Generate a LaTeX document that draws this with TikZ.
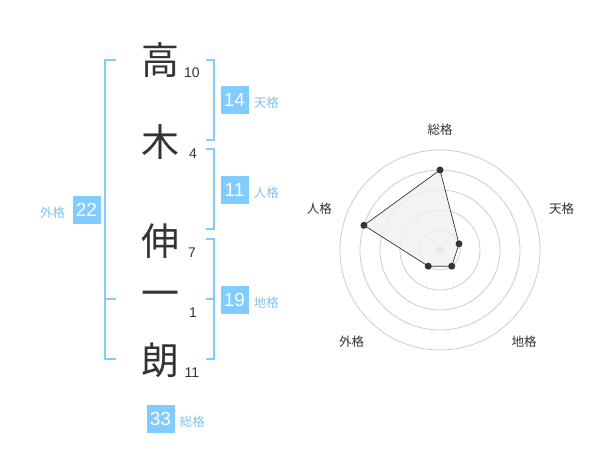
\documentclass[tikz,border=0pt]{standalone}
\usepackage{fontspec}
\setmainfont{Noto Sans CJK JP}
\newfontfamily\numfont{Liberation Sans}
\usetikzlibrary{positioning}

\definecolor{kakublue}{HTML}{80CCFF}
\definecolor{kakutext}{HTML}{7CC4F0}
\definecolor{ink}{HTML}{333333}
\definecolor{ringgray}{HTML}{CCCCCC}
\definecolor{areagray}{HTML}{F0F0F0}

\begin{document}
\begin{tikzpicture}[x=1pt,y=1pt,line join=miter,node distance=4pt]

        \tikzstyle{kanji}=[text=ink,font=\fontsize{38}{38}\selectfont,inner sep=0pt]
        \tikzstyle{stroke}=[text=ink,font=\numfont\fontsize{14}{14}\selectfont,inner sep=0pt]
        \tikzstyle{badge}=[fill=kakublue,text=white,minimum size=28pt,inner sep=0pt,font=\numfont\fontsize{19}{19}\selectfont]
        \tikzstyle{kaku}=[text=kakutext,font=\fontsize{12.5}{12.5}\selectfont,inner sep=0pt,yshift=-3pt]
        \tikzstyle{bracket}=[draw=kakublue,line width=2pt]
        \tikzstyle{ring}=[draw=ringgray,line width=0.8pt]
        \tikzstyle{axis}=[text=ink,font=\fontsize{12.5}{12.5}\selectfont,inner sep=0pt]

        \useasboundingbox (0,0) rectangle (600,-470);

        % name
        \node[kanji] (k1) at (160,-60)  {高};
        \node[kanji] (k2) at (160,-142) {木};
        \node[kanji] (k3) at (160,-241) {伸};
        \node[kanji] (k4) at (160,-299) {一};
        \node[kanji] (k5) at (160,-360) {朗};

        \node[stroke] (s1) at (192,-73)  {10};
        \node[stroke] (s2) at (193,-154) {4};
        \node[stroke] (s3) at (192,-253) {7};
        \node[stroke] (s4) at (193,-313) {1};
        \node[stroke] (s5) at (192,-373) {11};

        % brackets
        \draw[bracket] (206,-60)  -- (214,-60)  -- (214,-140) -- (206,-140);
        \draw[bracket] (206,-149) -- (214,-149) -- (214,-229) -- (206,-229);
        \draw[bracket] (206,-239) -- (214,-239) -- (214,-359) -- (206,-359);
        \draw[bracket] (206,-299) -- (214,-299);
        \draw[bracket] (116,-60)  -- (105,-60)  -- (105,-359) -- (116,-359);
        \draw[bracket] (105,-299) -- (116,-299);

        % scores
        \node[badge] (ten)   at (234.5,-100) {14};
        \node[badge] (jin)   at (234.5,-190) {11};
        \node[badge] (chi)   at (234.5,-300) {19};
        \node[badge] (gai)   at (86.5,-210)  {22};
        \node[badge] (sou)   at (160.5,-419) {33};

        \node[kaku] (tenL) [right=5pt of ten] {天格};
        \node[kaku] (jinL) [right=5pt of jin] {人格};
        \node[kaku] (chiL) [right=5pt of chi] {地格};
        \node[kaku] (gaiL) [left=7pt of gai]  {外格};
        \node[kaku] (souL) [right=5pt of sou] {総格};

        % radar
        \begin{scope}[shift={(440,-250)}]
          \foreach \r in {20,40,60,80,100}
            \draw[ring] (0,0) circle (\r pt);
          \fill[ringgray] (0,0) circle (4pt);

          \coordinate (p1) at (90:80);
          \coordinate (p2) at (18:20);
          \coordinate (p3) at (-54:20);
          \coordinate (p4) at (-126:20);
          \coordinate (p5) at (162:80);

          \path[fill=areagray,fill opacity=0.8,draw=ink,line width=0.7pt]
            (p1) -- (p2) -- (p3) -- (p4) -- (p5) -- cycle;
          \foreach \p in {p1,p2,p3,p4,p5}
            \fill[ink] (\p) circle (3.5pt);

          \node[axis] (a1) at (0,120)      {総格};
          \node[axis] (a2) at (121.7,41.7) {天格};
          \node[axis] (a3) at (84,-91.7)   {地格};
          \node[axis] (a4) at (-88.3,-91.7) {外格};
          \node[axis] (a5) at (-120.7,41.7) {人格};
        \end{scope}

\end{tikzpicture}
\end{document}
